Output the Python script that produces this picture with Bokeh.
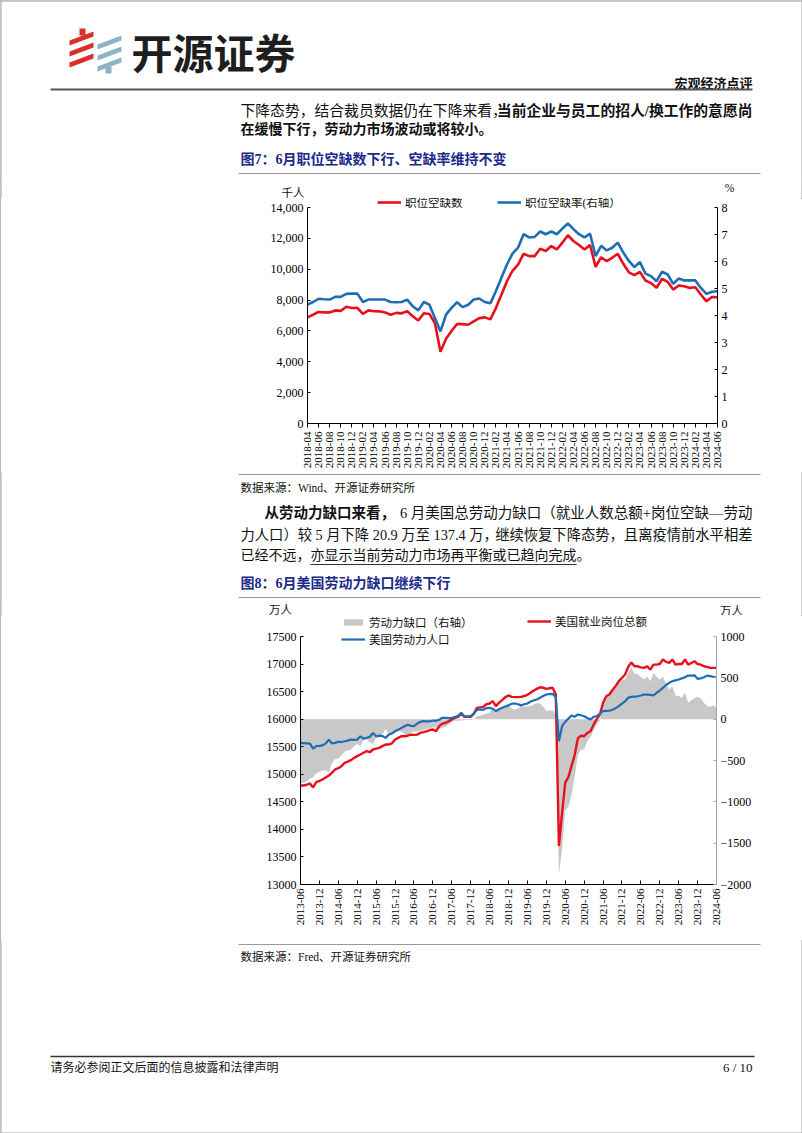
import math
from bokeh.plotting import figure
from bokeh.models import (Range1d, LinearAxis, FixedTicker, NumeralTickFormatter,
                          Legend, LegendItem)
from bokeh.layouts import column
from bokeh.embed import file_html
from bokeh.resources import INLINE
from bokeh.core.properties import value

# ---------------- data: chart 1 (JOLTS) ----------------
c1_tick_labels = [
    "2018-04", "2018-06", "2018-08", "2018-10", "2018-12",
    "2019-02", "2019-04", "2019-06", "2019-08", "2019-10", "2019-12",
    "2020-02", "2020-04", "2020-06", "2020-08", "2020-10", "2020-12",
    "2021-02", "2021-04", "2021-06", "2021-08", "2021-10", "2021-12",
    "2022-02", "2022-04", "2022-06", "2022-08", "2022-10", "2022-12",
    "2023-02", "2023-04", "2023-06", "2023-08", "2023-10", "2023-12",
    "2024-02", "2024-04", "2024-06",
]
c1_openings = [
    6880, 7050, 7230, 7200, 7200, 7330, 7300, 7570, 7490, 7500,
    7100, 7330, 7280, 7270, 7200, 7050, 7170, 7140, 7270, 6950,
    6680, 7150, 7100, 6500, 4650, 5500, 6000, 6450, 6440, 6400,
    6620, 6830, 6880, 6750, 7480, 8350, 9220, 9900, 10300, 11000,
    10850, 10850, 11330, 11180, 11500, 11280, 11720, 12200, 11830, 11570,
    11280, 11570, 10150, 10780, 10520, 10740, 11000, 10350, 9800, 9620,
    9830, 9270, 9100, 8800, 9380, 9180, 8680, 8940, 8900, 8790,
    8830, 8360, 7920, 8200, 8180,
]
c1_rate = [
    4.40, 4.50, 4.62, 4.60, 4.59, 4.69, 4.69, 4.80, 4.81, 4.81,
    4.50, 4.59, 4.59, 4.59, 4.59, 4.50, 4.49, 4.50, 4.59, 4.34,
    4.19, 4.50, 4.40, 3.91, 3.41, 4.03, 4.28, 4.49, 4.31, 4.40,
    4.59, 4.63, 4.50, 4.45, 4.90, 5.40, 5.89, 6.29, 6.51, 7.01,
    6.89, 6.91, 7.11, 7.01, 7.11, 7.01, 7.22, 7.41, 7.20, 7.01,
    6.89, 7.03, 6.20, 6.58, 6.41, 6.51, 6.70, 6.33, 6.02, 5.79,
    5.98, 5.55, 5.46, 5.27, 5.62, 5.52, 5.17, 5.37, 5.30, 5.30,
    5.30, 5.02, 4.80, 4.88, 4.90,
]

# ---------------- data: chart 2 (labour gap, 万人) ----------------
c2_tick_labels = [
    "2013-06", "2013-12", "2014-06", "2014-12", "2015-06", "2015-12",
    "2016-06", "2016-12", "2017-06", "2017-12", "2018-06", "2018-12",
    "2019-06", "2019-12", "2020-06", "2020-12", "2021-06", "2021-12",
    "2022-06", "2022-12", "2023-06", "2023-12", "2024-06",
]
c2_jobs = [
    14796, 14796, 14810, 14833, 14760, 14857, 14880, 14905, 14940, 14977,
    15030, 15087, 15110, 15147, 15207, 15230, 15256, 15298, 15330, 15359,
    15390, 15420, 15400, 15450, 15465, 15480, 15510, 15540, 15540, 15560,
    15630, 15660, 15690, 15690, 15700, 15720, 15715, 15720, 15750, 15764,
    15780, 15800, 15812, 15780, 15873, 15920, 15933, 15960, 15994, 16024,
    16040, 16100, 16042, 16042, 16042, 16100, 16206, 16215, 16224, 16270,
    16284, 16327, 16236, 16300, 16345, 16400, 16430, 16405, 16400, 16400,
    16405, 16420, 16442, 16478, 16520, 16550, 16580, 16570, 16550, 16560,
    16569, 16450, 13700, 14300, 14850, 14950, 15150, 15350, 15650, 15700,
    15690, 15750, 15782, 15900, 16000, 16085, 16296, 16417, 16448, 16530,
    16600, 16690, 16750, 16810, 16950, 17030, 16960, 16960, 16940, 16930,
    16960, 16900, 16990, 16990, 17000, 17083, 17040, 17022, 17083, 16990,
    17000, 17000, 17083, 16990, 17020, 17052, 17000, 16990, 16960, 16950,
    16930, 16930, 16935,
]
c2_labor = [
    15570, 15565, 15560, 15555, 15465, 15510, 15515, 15525, 15560, 15625,
    15560, 15570, 15590, 15585, 15600, 15610, 15630, 15625, 15630, 15690,
    15645, 15660, 15680, 15750, 15690, 15700, 15695, 15660, 15720, 15740,
    15780, 15810, 15840, 15870, 15900, 15880, 15875, 15920, 15950, 15965,
    15960, 15960, 15975, 15970, 15990, 16025, 16024, 16020, 16025, 16040,
    16060, 16115, 16055, 16050, 16055, 16100, 16170, 16175, 16170, 16200,
    16206, 16190, 16145, 16180, 16206, 16230, 16250, 16280, 16285, 16270,
    16250, 16270, 16285, 16320, 16340, 16357, 16390, 16420, 16448, 16455,
    16460, 16400, 15600, 15873, 15950, 16010, 16066, 16042, 16085, 16070,
    16054, 16020, 15994, 16040, 16054, 16100, 16145, 16150, 16155, 16170,
    16200, 16236, 16280, 16327, 16390, 16405, 16410, 16415, 16430, 16448,
    16445, 16440, 16430, 16478, 16520, 16569, 16620, 16660, 16690, 16705,
    16720, 16740, 16760, 16792, 16790, 16795, 16732, 16740, 16760, 16790,
    16780, 16768, 16760,
]
c2_gap = [
    -774, -769, -750, -722, -705, -653, -635, -620, -620, -648,
    -530, -483, -480, -438, -393, -380, -374, -327, -300, -331,
    -255, -240, -280, -300, -225, -220, -185, -120, -180, -180,
    -150, -150, -150, -180, -200, -160, -150, -150, -140, -130,
    -120, -110, -100, -100, -117, -105, -91, -60, -31, -16,
    -20, -15, -13, -8, -13, 0, 36, 40, 54, 70,
    78, 137, 91, 120, 139, 170, 180, 125, 115, 130,
    155, 150, 157, 158, 180, 193, 190, 150, 102, 105,
    109, 50, -1880, -1573, -1100, -1060, -916, -692, -435, -370,
    -364, -270, -212, -140, -54, -15, 151, 267, 293, 360,
    400, 454, 470, 483, 560, 625, 550, 545, 510, 482,
    515, 460, 560, 512, 480, 514, 420, 362, 393, 285,
    280, 260, 323, 198, 230, 257, 268, 250, 200, 160,
    150, 162, 137,
]

# ---------------- styles ----------------
CJK = "Noto Sans CJK SC"
MIX = "'Liberation Serif', 'Noto Sans CJK SC'"
SERIF = "Liberation Serif"
NAVY = "#1c2a8a"
RED = "#e8101c"
BLUE = "#1f6db5"
GRAYFILL = "#c8c8c8"
EDGE = "#a0a0a0"
W = 802


def deco(top, bottom):
    p = figure(width=W, height=bottom - top, x_range=Range1d(0, W),
               y_range=Range1d(bottom, top), output_backend="svg",
               toolbar_location=None, x_axis_type=None, y_axis_type=None,
               min_border=0, outline_line_color=None)
    p.min_border_left = p.min_border_right = p.min_border_top = p.min_border_bottom = 0
    p.frame_align = False
    p.background_fill_color = "white"
    p.border_fill_color = "white"
    p.segment(x0=[0.5, W - 0.5], y0=[top, top], x1=[0.5, W - 0.5], y1=[bottom, bottom],
              line_color=EDGE, line_width=1)
    return p


def txt(p, x, y, s, size="14px", font=MIX, color="#111111", bold=False, align="left"):
    p.text(x=[x], y=[y], text=[s], text_font=value(font), text_font_size=size,
           text_color=color, text_font_style="bold" if bold else "normal",
           text_align=align, text_baseline="middle")


def hline(p, x0, x1, y, color="#999999", w=1.0):
    p.segment(x0=[x0], y0=[y], x1=[x1], y1=[y], line_color=color, line_width=w)


def style_axis(ax, tin=0, tout=4, color="#000000", size="12px"):
    ax.axis_line_color = color
    ax.axis_line_width = 1
    ax.major_tick_line_color = color
    ax.major_tick_in = tin
    ax.major_tick_out = tout
    ax.minor_tick_line_color = None
    ax.major_label_text_font = SERIF
    ax.major_label_text_font_size = size
    ax.major_label_text_color = "#000000"
    ax.major_label_standoff = 4


def add_leg(p, label, r, vx, vy, gh=12):
    lg = Legend(items=[LegendItem(label=label, renderers=[r])], location=(vx, vy),
                orientation="horizontal", background_fill_alpha=0,
                border_line_color=None, glyph_width=24, glyph_height=gh,
                label_height=gh, label_standoff=4, padding=0, margin=0, spacing=0,
                label_text_font=MIX, label_text_font_size="11.5px",
                label_text_color="#111111")
    p.add_layout(lg)


# ---------------- header block (page y 0..180) ----------------
head = deco(0, 180)
hline(head, 0, W, 0.5, color=EDGE)
red_x, red_y, blu_x, blu_y = [], [], [], []
for y0 in (40, 51, 62):
    red_x.append([69, 93, 93, 69])
    red_y.append([y0, y0 - 9, y0 - 4, y0 + 5])
for y0 in (44, 55, 66):
    blu_x.append([97, 121, 121, 97])
    blu_y.append([y0, y0 - 9, y0 - 4, y0 + 5])
red_x.append([79, 85, 85, 79]); red_y.append([28, 28, 35, 35])
blu_x.append([105, 111, 111, 105]); blu_y.append([66, 66, 73, 73])
head.patches(red_x, red_y, fill_color="#d8312b", line_color=None)
head.patches(blu_x, blu_y, fill_color="#8eb2c6", line_color=None)
txt(head, 131, 50, "开源证券", size="41px", font=CJK, color="#1e1e1e", bold=True)
txt(head, 752, 82, "宏观经济点评", size="13px", font=CJK, bold=True, align="right")
hline(head, 50, 752, 89, color="#555555", w=2)
txt(head, 240, 110, "下降态势，结合裁员数据仍在下降来看，", size="14.8px")
txt(head, 752, 110, "当前企业与员工的招人/换工作的意愿尚", size="14.8px", bold=True, align="right")
txt(head, 240, 129, "在缓慢下行，劳动力市场波动或将较小。", bold=True)
txt(head, 240, 159, "图7：6月职位空缺数下行、空缺率维持不变", color=NAVY, bold=True)
hline(head, 238, 760, 173)

# ---------------- chart 1 unit strip (page y 180..198) ----------------
c1top = deco(180, 198)
txt(c1top, 281, 192, "千人", size="11.5px")
txt(c1top, 729, 187, "%", size="11.5px", align="center")

# ---------------- chart 1 (page y 198..472) ----------------
x1 = list(range(len(c1_openings)))
F1_TOP, F1_Y0, F1_BOT = 198, 207, 423           # frame top, 14000-line, zero-line (px)
ext1 = (F1_BOT - F1_TOP) / (F1_BOT - F1_Y0)
c1 = figure(width=W, height=472 - F1_TOP, x_range=Range1d(0, len(x1) - 1),
            y_range=Range1d(0, 14000 * ext1),
            output_backend="svg", toolbar_location=None, outline_line_color=None,
            min_border_left=307, min_border_right=W - 717, min_border_top=0,
            min_border_bottom=472 - F1_BOT)
c1.frame_align = False
c1.grid.visible = False
c1.extra_y_ranges = {"rate": Range1d(0, 8 * ext1)}
r_open = c1.line(x1, c1_openings, line_color=RED, line_width=2.6)
r_rate = c1.line(x1, c1_rate, y_range_name="rate", line_color=BLUE, line_width=2.6)

ya = c1.yaxis[0]
style_axis(ya, tin=3, tout=0)
ya.ticker = FixedTicker(ticks=list(range(0, 14001, 2000)))
ya.formatter = NumeralTickFormatter(format="0,0")
ya.bounds = (0, 14000)
xa = c1.xaxis[0]
style_axis(xa, tin=0, tout=4, size="11px")
xa.ticker = FixedTicker(ticks=list(range(0, len(x1), 2)))
xa.major_label_overrides = {i * 2: lab for i, lab in enumerate(c1_tick_labels)}
xa.major_label_orientation = math.pi / 2
ra = LinearAxis(y_range_name="rate", ticker=FixedTicker(ticks=list(range(0, 9))))
style_axis(ra, tin=3, tout=0)
ra.bounds = (0, 8)
c1.add_layout(ra, "right")

add_leg(c1, "职位空缺数", r_open, 70, 213)
add_leg(c1, "职位空缺率(右轴）", r_rate, 190, 213)

# ---------------- middle text (page y 472..600) ----------------
mid = deco(472, 600)
hline(mid, 238, 760, 474)
txt(mid, 240, 487, "数据来源：Wind、开源证券研究所", size="11.5px")
txt(mid, 264, 512, "从劳动力缺口来看，", size="14.5px", bold=True)
txt(mid, 752, 512, "6 月美国总劳动力缺口（就业人数总额+岗位空缺—劳动", size="14.5px", align="right")
txt(mid, 240, 534, "力人口）较 5 月下降 20.9 万至 137.4 万，", size="14.3px")
txt(mid, 752, 534, "继续恢复下降态势，且离疫情前水平相差", size="14.3px", align="right")
txt(mid, 240, 555, "已经不远，")
txt(mid, 310, 555, "亦显示当前劳动力市场再平衡或已趋向完成")
txt(mid, 576, 555, "。")
hline(mid, 310, 576, 564, color="#333333", w=1)
txt(mid, 240, 583, "图8：6月美国劳动力缺口继续下行", color=NAVY, bold=True)
hline(mid, 238, 760, 597)

# ---------------- chart 2 unit strip (page y 600..615) ----------------
c2top = deco(600, 615)
txt(c2top, 280, 609, "万人", size="11.5px", align="center")
txt(c2top, 731, 610, "万人", size="11.5px", align="center")

# ---------------- chart 2 (page y 615..940) ----------------
x2 = list(range(len(c2_jobs)))
F2_TOP, F2_Y0, F2_BOT = 615, 636, 884
ext2 = (F2_BOT - F2_TOP) / (F2_BOT - F2_Y0)
c2 = figure(width=W, height=940 - F2_TOP, x_range=Range1d(0, len(x2) - 1),
            y_range=Range1d(13000, 13000 + 4500 * ext2),
            output_backend="svg", toolbar_location=None, outline_line_color=None,
            min_border_left=300, min_border_right=W - 716, min_border_top=0,
            min_border_bottom=940 - F2_BOT)
c2.frame_align = False
c2.grid.visible = False
c2.extra_y_ranges = {"gap": Range1d(-2000, -2000 + 3000 * ext2)}
r_gap = c2.varea(x=x2, y1=0, y2=c2_gap, y_range_name="gap", fill_color=GRAYFILL)
r_jobs = c2.line(x2, c2_jobs, line_color=RED, line_width=2.4)
r_lab = c2.line(x2, c2_labor, line_color=BLUE, line_width=2.2)

ya2 = c2.yaxis[0]
style_axis(ya2, tin=3, tout=0)
ya2.ticker = FixedTicker(ticks=list(range(13000, 17501, 500)))
ya2.bounds = (13000, 17500)
xa2 = c2.xaxis[0]
style_axis(xa2, tin=4, tout=0, size="11px")
xa2.ticker = FixedTicker(ticks=list(range(0, len(x2), 6)))
xa2.major_label_overrides = {i * 6: lab for i, lab in enumerate(c2_tick_labels)}
xa2.major_label_orientation = math.pi / 2
ra2 = LinearAxis(y_range_name="gap", ticker=FixedTicker(ticks=list(range(-2000, 1001, 500))))
style_axis(ra2, tin=3, tout=0, color="#a6a6a6")
ra2.major_label_text_color = "#000000"
ra2.bounds = (-2000, 1000)
c2.add_layout(ra2, "right")

add_leg(c2, "劳动力缺口（右轴）", r_gap, 41, 254, gh=8)
add_leg(c2, "美国就业岗位总额", r_jobs, 227, 255)
add_leg(c2, "美国劳动力人口", r_lab, 41, 237)

# ---------------- bottom (page y 940..1133) ----------------
bot = deco(940, 1133)
hline(bot, 238, 760, 944)
txt(bot, 240, 956, "数据来源：Fred、开源证券研究所", size="11.5px")
hline(bot, 50, 754, 1056, color="#333333", w=1.5)
txt(bot, 50, 1067, "请务必参阅正文后面的信息披露和法律声明", size="12px")
txt(bot, 752, 1067, "6 / 10", size="13px", font=SERIF, align="right")
hline(bot, 0, W, 1132.5, color=EDGE)

page = column(head, c1top, c1, mid, c2top, c2, bot, spacing=0,
              styles={"outline": "1px solid " + EDGE, "outline-offset": "-1px"})
open("out.html", "w").write(file_html(page, INLINE))
